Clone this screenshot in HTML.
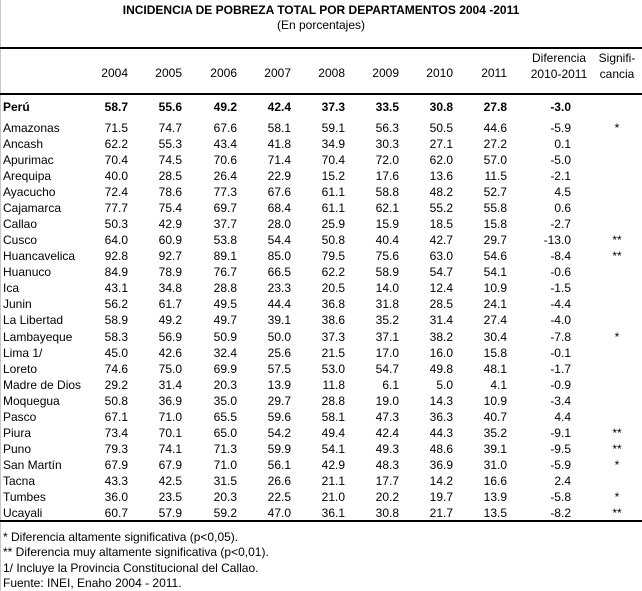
<!DOCTYPE html>
<html><head><meta charset="utf-8">
<style>
body{margin:0;background:#fff;}
#wrap{position:relative;width:642px;height:591px;overflow:hidden;font-family:"Liberation Sans",Arial,sans-serif;font-size:12px;color:#000;}
.t{position:absolute;white-space:nowrap;line-height:14px;}
.r{text-align:right;}
.c{text-align:center;}
.hl{position:absolute;left:0;width:642px;height:2px;background:#000;}
</style></head>
<body>
<div id="wrap">
<div style="position:absolute;left:0;top:0;width:1px;height:591px;background:#c8c8c8"></div>
<div class="t c" style="left:0;width:642px;top:3px;font-weight:bold;">INCIDENCIA DE POBREZA TOTAL POR DEPARTAMENTOS 2004 -2011</div>
<div class="t c" style="left:0;width:642px;top:18px;">(En porcentajes)</div>
<div class="hl" style="top:47px"></div>
<div class="hl" style="top:93px"></div>
<div class="hl" style="top:520px"></div>
<div class="t c" style="left:519px;width:80px;top:50px;line-height:16px;">Diferencia<br>2010-2011</div>
<div class="t c" style="left:587px;width:60px;top:50px;line-height:16px;">Signifi-<br>cancia</div>
<div id="rows"></div>
<div class="t" style="left:3px;top:530px">* Diferencia altamente significativa (p&lt;0,05).</div>
<div class="t" style="left:3px;top:545px">** Diferencia muy altamente significativa (p&lt;0,01).</div>
<div class="t" style="left:3px;top:561px">1/ Incluye la Provincia Constitucional del Callao.</div>
<div class="t" style="left:3px;top:576px">Fuente: INEI, Enaho 2004 - 2011.</div>
</div>
<script>
const years=["2004","2005","2006","2007","2008","2009","2010","2011"];
const regions=["Perú","Amazonas","Ancash","Apurimac","Arequipa","Ayacucho","Cajamarca","Callao","Cusco","Huancavelica","Huanuco","Ica","Junin","La Libertad","Lambayeque","Lima 1/","Loreto","Madre de Dios","Moquegua","Pasco","Piura","Puno","San Martín","Tacna","Tumbes","Ucayali"];
const values=[
["58.7","55.6","49.2","42.4","37.3","33.5","30.8","27.8"],
["71.5","74.7","67.6","58.1","59.1","56.3","50.5","44.6"],
["62.2","55.3","43.4","41.8","34.9","30.3","27.1","27.2"],
["70.4","74.5","70.6","71.4","70.4","72.0","62.0","57.0"],
["40.0","28.5","26.4","22.9","15.2","17.6","13.6","11.5"],
["72.4","78.6","77.3","67.6","61.1","58.8","48.2","52.7"],
["77.7","75.4","69.7","68.4","61.1","62.1","55.2","55.8"],
["50.3","42.9","37.7","28.0","25.9","15.9","18.5","15.8"],
["64.0","60.9","53.8","54.4","50.8","40.4","42.7","29.7"],
["92.8","92.7","89.1","85.0","79.5","75.6","63.0","54.6"],
["84.9","78.9","76.7","66.5","62.2","58.9","54.7","54.1"],
["43.1","34.8","28.8","23.3","20.5","14.0","12.4","10.9"],
["56.2","61.7","49.5","44.4","36.8","31.8","28.5","24.1"],
["58.9","49.2","49.7","39.1","38.6","35.2","31.4","27.4"],
["58.3","56.9","50.9","50.0","37.3","37.1","38.2","30.4"],
["45.0","42.6","32.4","25.6","21.5","17.0","16.0","15.8"],
["74.6","75.0","69.9","57.5","53.0","54.7","49.8","48.1"],
["29.2","31.4","20.3","13.9","11.8","6.1","5.0","4.1"],
["50.8","36.9","35.0","29.7","28.8","19.0","14.3","10.9"],
["67.1","71.0","65.5","59.6","58.1","47.3","36.3","40.7"],
["73.4","70.1","65.0","54.2","49.4","42.4","44.3","35.2"],
["79.3","74.1","71.3","59.9","54.1","49.3","48.6","39.1"],
["67.9","67.9","71.0","56.1","42.9","48.3","36.9","31.0"],
["43.3","42.5","31.5","26.6","21.1","17.7","14.2","16.6"],
["36.0","23.5","20.3","22.5","21.0","20.2","19.7","13.9"],
["60.7","57.9","59.2","47.0","36.1","30.8","21.7","13.5"]];
const diffs=["-3.0","-5.9","0.1","-5.0","-2.1","4.5","0.6","-2.7","-13.0","-8.4","-0.6","-1.5","-4.4","-4.0","-7.8","-0.1","-1.7","-0.9","-3.4","4.4","-9.1","-9.5","-5.9","2.4","-5.8","-8.2"];
const signif=["","*","","","","","","","**","**","","","","","*","","","","","","**","**","*","","*","**"];
const colRight=[128,182,237,291,345,399,453,507];
const wrap=document.getElementById('wrap');
function mk(txt,cls,style){const d=document.createElement('div');d.className='t '+cls;d.textContent=txt;Object.assign(d.style,style);wrap.appendChild(d);return d;}
years.forEach((y,i)=>{
  const d=mk(y,'r',{left:(colRight[i]-60)+'px',width:'60px',top:'66px'});
  
  
});
function rowY(i){return i===0?100:121+(i-1)*16.04;}
regions.forEach((reg,i)=>{
  const top=rowY(i)+'px';const bold=i===0?'bold':'normal';
  const l=mk(reg,'',{left:'3px',top:top,fontWeight:bold});
  
  
  values[i].forEach((v,j)=>{
    const c=mk(v,'r',{left:(colRight[j]-60)+'px',width:'60px',top:top,fontWeight:bold});
    
    
  });
  const df=mk(diffs[i],'r',{left:'510px',width:'61px',top:top,fontWeight:bold});
  
  
  if(signif[i]){
    const s=mk(signif[i],'c',{left:'597px',width:'40px',top:top});
    
    
  }
});
</script>
</body></html>
